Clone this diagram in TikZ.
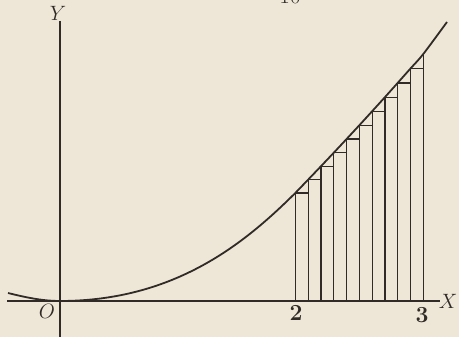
\documentclass[tikz,border=0pt]{standalone}
\definecolor{paper}{RGB}{238,231,216}
\definecolor{ink}{RGB}{48,43,38}
\begin{document}
\begin{tikzpicture}[x=1pt, y=-1pt, every node/.style={font=\fontsize{20}{22}\selectfont, text=ink},
  axis/.style={ink, line width=1.7pt},
  curve/.style={ink, line width=1.8pt, line join=round},
  strip/.style={ink, line width=1.2pt}]
\clip (0,0) rectangle (459,337);
\fill[paper] (0,0) rectangle (459,337);
\node (pagenum) at (290,-4) {\fontsize{23}{26}\selectfont 10};
\draw[axis] (7,301) coordinate (xstart) -- (440,301) coordinate (xend);
\draw[axis] (60,21) coordinate (ytop) -- (60,337) coordinate (ybot);
\node (xlab) at (448,301) {$X$};
\node (ylab) at (58,13) {$Y$};
\node (olab) at (47,311) {$O$};
\node (two) at (296,313) {\fontsize{23}{26}\selectfont\bfseries 2};
\node (three) at (422,315) {\fontsize{23}{26}\selectfont\bfseries 3};
\draw[curve] (8,293) .. controls (30,298.5) and (45,301) .. (60,301)
  .. controls (175,301) and (245,243) .. (295.3,193)
  -- plot[smooth, tension=0.5] coordinates {(295.3,193) (308.1,179.7) (320.9,166.3) (333.7,152.8) (346.5,139.1) (359.3,125.3) (372.1,111.3) (384.9,97.2) (397.7,82.9) (410.5,68.5) (423.3,54) (447,22)};
\foreach \i in {0,...,9}{
  \pgfmathsetmacro\xa{295.3+12.8*\i}
  \pgfmathsetmacro\xb{\xa+12.8}
  \pgfmathsetmacro\ya{301-(108+13.2*\i+0.07*\i*\i)}
  \draw[strip] (\xa,301) -- (\xa,\ya) -- (\xb,\ya);
}
\draw[strip] (423.3,301) -- (423.3,54);
\end{tikzpicture}
\end{document}
